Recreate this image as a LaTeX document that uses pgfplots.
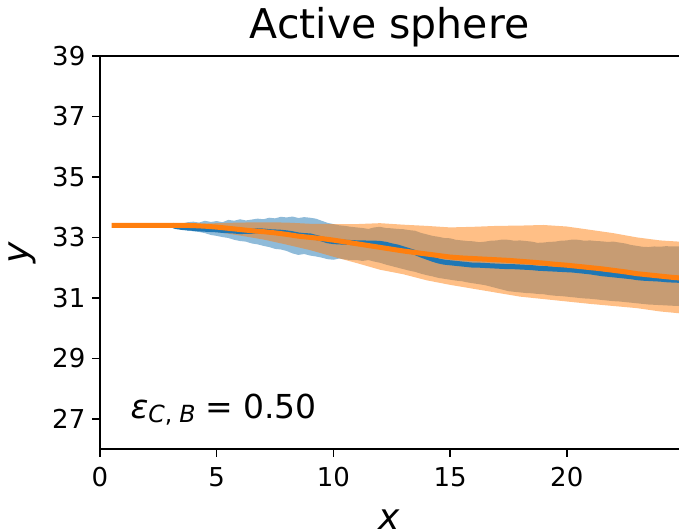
\documentclass[border=0pt]{standalone}
\usepackage{fontspec}
\setmainfont{DejaVu Sans}
\usepackage{pgfplots}
\pgfplotsset{compat=1.18}
\usepgfplotslibrary{fillbetween}
\usepackage{pgfplotstable}
\definecolor{tabblue}{HTML}{1F77B4}
\definecolor{taborange}{HTML}{FF7F0E}

\pgfplotstableread{
x lo hi m
3.10 33.37 33.43 33.40
3.25 33.33 33.47 33.36
3.50 33.30 33.45 33.33
3.75 33.24 33.50 33.31
4.00 33.20 33.52 33.30
4.25 33.18 33.49 33.28
4.50 33.14 33.55 33.27
4.75 33.08 33.51 33.26
5.00 33.05 33.54 33.25
5.25 33.01 33.50 33.23
5.50 32.98 33.58 33.22
5.75 32.92 33.55 33.21
6.00 32.88 33.60 33.19
6.25 32.86 33.56 33.20
6.50 32.80 33.59 33.20
6.75 32.77 33.62 33.22
7.00 32.72 33.60 33.21
7.25 32.68 33.65 33.19
7.50 32.62 33.63 33.18
7.75 32.60 33.68 33.17
8.00 32.55 33.66 33.15
8.25 32.47 33.69 33.12
8.50 32.42 33.64 33.08
8.75 32.45 33.67 33.06
9.00 32.40 33.65 33.05
9.25 32.37 33.62 33.00
9.50 32.33 33.55 32.95
9.75 32.28 33.48 32.89
10.00 32.26 33.44 32.86
10.25 32.30 33.40 32.85
10.50 32.27 33.38 32.84
10.75 32.25 33.35 32.83
11.00 32.25 33.33 32.82
11.25 32.22 33.31 32.82
11.50 32.25 33.28 32.81
11.75 32.20 33.33 32.81
12.00 32.16 33.35 32.80
12.25 32.10 33.31 32.77
12.50 32.05 33.30 32.72
12.75 32.00 33.28 32.68
13.00 31.95 33.27 32.62
13.25 31.90 33.24 32.56
13.50 31.86 33.22 32.50
13.75 31.80 33.15 32.42
14.00 31.75 33.10 32.35
14.25 31.71 33.05 32.28
14.50 31.66 33.02 32.22
14.75 31.63 32.98 32.18
15.00 31.60 32.97 32.16
15.25 31.57 32.92 32.14
15.50 31.55 32.90 32.12
15.75 31.51 32.88 32.10
16.00 31.48 32.87 32.08
16.25 31.45 32.84 32.08
16.50 31.42 32.86 32.07
16.75 31.37 32.89 32.06
17.00 31.32 32.90 32.05
17.25 31.27 32.93 32.04
17.50 31.22 32.92 32.03
17.75 31.20 32.89 32.03
18.00 31.18 32.90 32.02
18.25 31.16 32.88 32.01
18.50 31.15 32.86 32.00
18.75 31.13 32.82 31.98
19.00 31.12 32.83 31.97
19.25 31.09 32.85 31.96
19.50 31.07 32.86 31.95
19.75 31.06 32.89 31.94
20.00 31.04 32.90 31.93
20.25 31.02 32.93 31.92
20.50 31.00 32.92 31.90
20.75 30.98 32.89 31.88
21.00 30.97 32.90 31.86
21.25 30.95 32.88 31.83
21.50 30.93 32.87 31.80
21.75 30.91 32.85 31.78
22.00 30.89 32.86 31.76
22.25 30.88 32.83 31.74
22.50 30.86 32.80 31.72
22.75 30.84 32.75 31.70
23.00 30.82 32.72 31.67
23.25 30.80 32.69 31.65
23.50 30.78 32.68 31.64
23.75 30.77 32.70 31.63
24.00 30.76 32.69 31.62
24.25 30.75 32.71 31.60
24.50 30.74 32.70 31.59
24.81 30.73 32.70 31.58
}\bluedata

\pgfplotstableread{
x lo hi
3.0 33.39 33.41
4.0 33.32 33.44
5.0 33.18 33.47
6.0 33.06 33.49
7.0 32.93 33.50
8.0 32.76 33.49
9.0 32.58 33.45
10.0 32.36 33.44
11.0 32.15 33.44
12.0 31.93 33.47
13.0 31.78 33.42
14.0 31.58 33.38
15.0 31.43 33.33
16.0 31.30 33.35
17.0 31.17 33.38
18.0 31.04 33.39
19.0 30.96 33.41
20.0 30.88 33.36
21.0 30.80 33.25
22.0 30.73 33.14
23.0 30.66 33.00
24.0 30.55 32.90
24.81 30.49 32.86
}\orangeband

\pgfplotstableread{
x m
0.5 33.40
1.0 33.40
2.0 33.40
3.0 33.40
3.5 33.40
4.0 33.39
4.5 33.37
5.0 33.34
5.5 33.30
6.0 33.26
6.5 33.22
7.0 33.19
7.5 33.15
8.0 33.10
8.5 33.04
9.0 33.00
9.5 32.96
10.0 32.91
10.5 32.85
11.0 32.79
11.5 32.73
12.0 32.67
12.5 32.61
13.0 32.55
13.5 32.50
14.0 32.45
14.5 32.40
15.0 32.35
15.5 32.32
16.0 32.30
16.5 32.28
17.0 32.26
17.5 32.24
18.0 32.21
18.5 32.18
19.0 32.15
19.5 32.11
20.0 32.08
20.5 32.04
21.0 32.00
21.5 31.96
22.0 31.91
22.5 31.86
23.0 31.80
23.5 31.76
24.0 31.72
24.5 31.68
24.81 31.66
}\orangeline

\begin{document}
\begin{tikzpicture}
\begin{axis}[
  name=ax,
  at={(0,0)}, anchor=south west,
  scale only axis, width=289.5pt, height=196.5pt,
  xmin=0, xmax=24.81, ymin=26, ymax=39,
  xtick={0,5,10,15,20}, ytick={27,29,31,33,35,37,39},
  axis x line*=box, axis y line*=left,
  xtick pos=lower, ytick pos=left,
  tick align=outside,
  major tick length=3.8pt,
  axis line style={line width=1pt, black},
  tick style={line width=0.8pt, black},
  /pgf/number format/assume math mode=true,
  tick label style={font=\fontsize{13}{15}\selectfont},
  xticklabel style={yshift=-2pt},
]
\addplot[name path=bhi, draw=none, forget plot] table[x=x,y=hi]{\bluedata};
\addplot[name path=blo, draw=none, forget plot] table[x=x,y=lo]{\bluedata};
\addplot[tabblue, fill opacity=0.5, draw=none] fill between[of=bhi and blo];
\addplot[name path=ohi, draw=none, forget plot] table[x=x,y=hi]{\orangeband};
\addplot[name path=olo, draw=none, forget plot] table[x=x,y=lo]{\orangeband};
\addplot[taborange, fill opacity=0.5, draw=none] fill between[of=ohi and olo];
\addplot[tabblue, line width=2.5pt, no marks] table[x=x,y=m]{\bluedata};
\addplot[taborange, line width=2.5pt, no marks] table[x=x,y=m]{\orangeline};
\node[anchor=base west, inner sep=0pt, font=\fontsize{16.5}{19}\selectfont] at (axis cs:1.29,27) {\textit{ε}\raisebox{-0.12em}{\fontsize{11.8}{13}\selectfont\textit{C},\hspace{0.3em}\textit{B}}\hspace{0.3em}=\hspace{0.3em}0.50};
\end{axis}
\node[anchor=base, inner sep=0pt, font=\fontsize{20.5}{24}\selectfont] at ([yshift=8.5pt]ax.north) {Active sphere};
\node[anchor=north, inner sep=0pt, font=\fontsize{18}{20}\selectfont] at ([yshift=-30pt]ax.south) {\textit{x}};
\node[rotate=90, anchor=center, inner sep=0pt, font=\fontsize{18}{20}\selectfont] at ([xshift=-39pt]ax.west) {\textit{y}};
\pgfresetboundingbox
\path[use as bounding box] (-50pt,-41pt) rectangle (289.5pt,224.5pt);
\end{tikzpicture}
\end{document}
